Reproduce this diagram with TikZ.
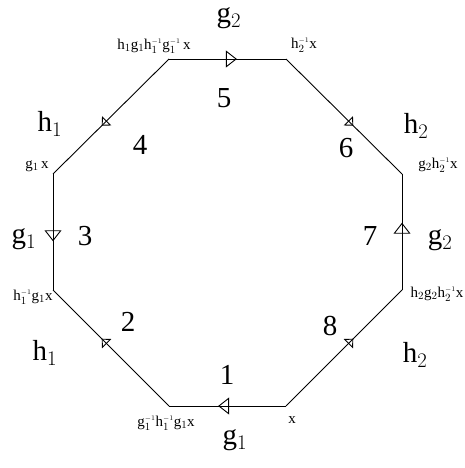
\documentclass[tikz,border=0pt]{standalone}
\usepackage{fontspec}
\setmainfont{Liberation Serif}
\usetikzlibrary{arrows.meta,decorations.markings}
\newcommand{\gsub}[1]{$_{#1}$}
\newcommand{\ginv}[1]{$^{\scriptscriptstyle -1}_{#1}$}

\begin{document}
\begin{tikzpicture}[
  x=1pt, y=-1pt,
  side/.style={line width=0.9pt},
  bigtip/.style={postaction={decorate}, decoration={markings,
      mark=at position 0.58 with {\arrow{Triangle[open,length=11pt,width=17pt]}}}},
  smalltip/.style={postaction={decorate}, decoration={markings,
      mark=at position 0.58 with {\arrow{Triangle[open,length=7pt,width=13pt]}}}},
  biglab/.style={font=\fontsize{29}{30}\selectfont, inner sep=0pt},
  vlab/.style={font=\fontsize{15}{16}\selectfont, inner sep=0pt},
]
  \useasboundingbox (0,0) rectangle (465,468);
  % corners of the octagon
  \coordinate (v1) at (286,406);
  \coordinate (v2) at (169,406);
  \coordinate (v3) at (53,290);
  \coordinate (v4) at (53,174);
  \coordinate (v5) at (169,59);
  \coordinate (v6) at (286,59);
  \coordinate (v7) at (402,174);
  \coordinate (v8) at (402,290);
  % sides
  \foreach \a/\b/\t in {v1/v2/bigtip, v2/v3/smalltip, v4/v3/bigtip, v5/v4/smalltip,
                         v5/v6/bigtip, v6/v7/smalltip, v8/v7/bigtip, v1/v8/smalltip}
    \draw[side, \t] (\a) -- (\b);
  % corner labels
  \node[vlab] (x1) at (292,420) {x};
  \node[vlab] (x2) at (166,423) {g\ginv{1}h\ginv{1}g\gsub{1}x};
  \node[vlab] (x3) at (33,297) {h\ginv{1}g\gsub{1}x};
  \node[vlab] (x4) at (37,166) {g\gsub{1}\,x};
  \node[vlab] (x5) at (154,46) {h\gsub{1}g\gsub{1}h\ginv{1}g\ginv{1}\,x};
  \node[vlab] (x6) at (304,45) {h\ginv{2}x};
  \node[vlab] (x7) at (438,165) {g\gsub{2}h\ginv{2}x};
  \node[vlab] (x8) at (437,294) {h\gsub{2}g\gsub{2}h\ginv{2}x};
  % side numbers
  \node[biglab] (n1) at (227,375) {1};
  \node[biglab] (n2) at (128,322) {2};
  \node[biglab] (n3) at (85,236) {3};
  \node[biglab] (n4) at (140,145) {4};
  \node[biglab] (n5) at (224,98) {5};
  \node[biglab] (n6) at (346,148) {6};
  \node[biglab] (n7) at (370,236) {7};
  \node[biglab] (n8) at (330,326) {8};
  % generators
  \node[biglab] (s1) at (235,440) {g\gsub{1}};
  \node[biglab] (s2) at (45,353) {h\gsub{1}};
  \node[biglab] (s3) at (24,239) {g\gsub{1}};
  \node[biglab] (s4) at (50,124) {h\gsub{1}};
  \node[biglab] (s5) at (229,18) {g\gsub{2}};
  \node[biglab] (s6) at (416,126) {h\gsub{2}};
  \node[biglab] (s7) at (440,240) {g\gsub{2}};
  \node[biglab] (s8) at (415,355) {h\gsub{2}};
\end{tikzpicture}
\end{document}
